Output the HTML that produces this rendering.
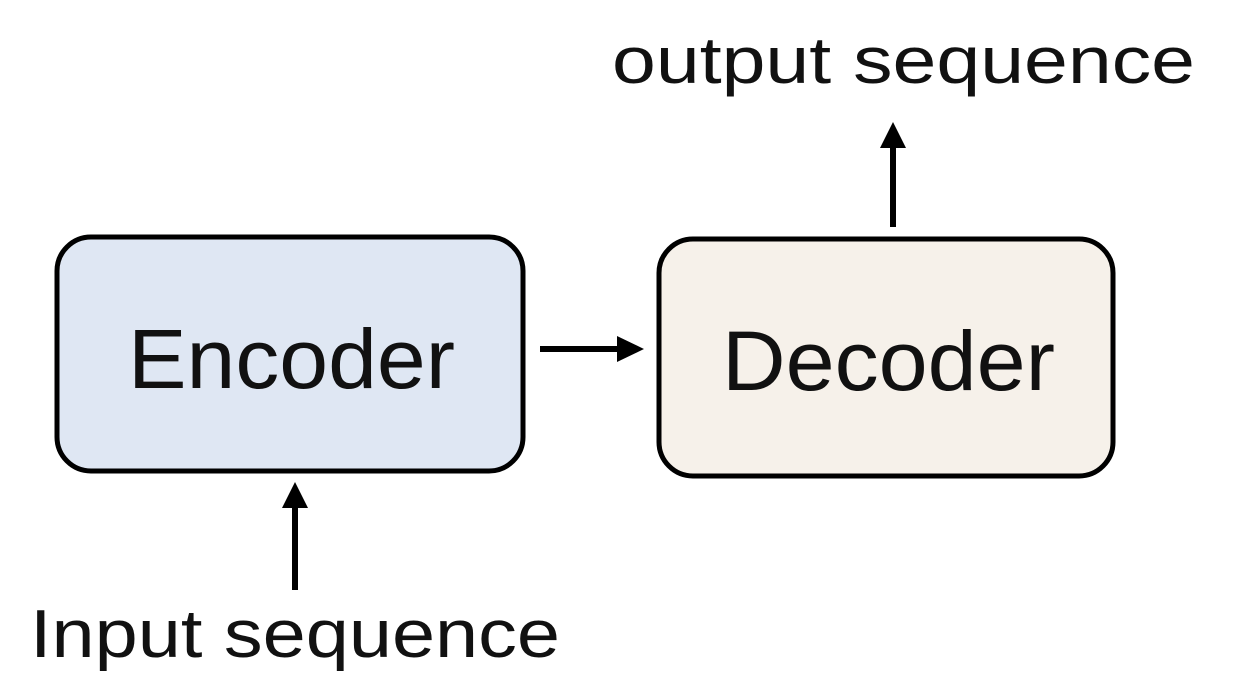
<!DOCTYPE html>
<html><head><meta charset="utf-8"><style>html,body{margin:0;padding:0;background:#fff}svg{display:block}</style></head>
<body>
<svg width="1250" height="694" viewBox="0 0 1250 694" xmlns="http://www.w3.org/2000/svg" font-family="'Liberation Sans', sans-serif">
<rect width="1250" height="694" fill="#fff"/>
<rect x="57" y="237" width="466" height="234" rx="34" fill="#dfe7f3" stroke="#000" stroke-width="5"/>
<rect x="659" y="239" width="454" height="237" rx="34" fill="#f6f1ea" stroke="#000" stroke-width="5"/>
<text x="128" y="388" font-size="84" textLength="327" lengthAdjust="spacingAndGlyphs" fill="#111">Encoder</text>
<text x="722" y="390" font-size="84" textLength="333" lengthAdjust="spacingAndGlyphs" fill="#111">Decoder</text>
<text x="612" y="83" font-size="66" textLength="583" lengthAdjust="spacingAndGlyphs" fill="#111">output sequence</text>
<text x="30" y="657" font-size="68" textLength="530" lengthAdjust="spacingAndGlyphs" fill="#111">Input sequence</text>
<line x1="893" y1="227" x2="893" y2="145" stroke="#000" stroke-width="6"/>
<polygon points="893,122 880,148 906,148" fill="#000"/>
<line x1="540" y1="349" x2="620" y2="349" stroke="#000" stroke-width="6"/>
<polygon points="644,349 617,336 617,362" fill="#000"/>
<line x1="295" y1="590" x2="295" y2="505" stroke="#000" stroke-width="6"/>
<polygon points="295,482 282,508 308,508" fill="#000"/>
</svg>
</body></html>
